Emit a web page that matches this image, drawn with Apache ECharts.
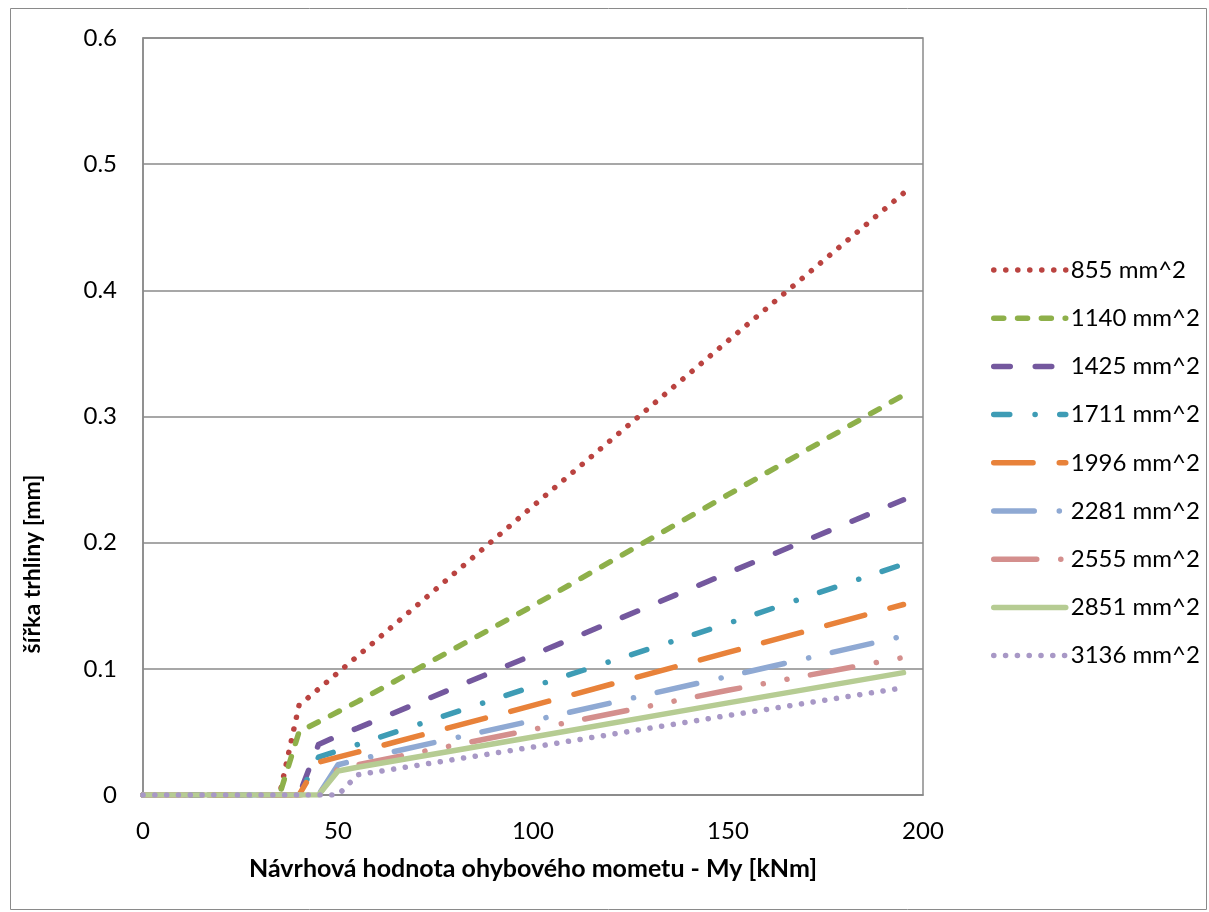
<!DOCTYPE html>
<html>
<head>
<meta charset="utf-8">
<script src="https://cdn.jsdelivr.net/npm/echarts@6/dist/echarts.min.js"></script>
<style>
  html, body { margin: 0; padding: 0; background: #ffffff; }
  #chart { width: 1209px; height: 912px; }
</style>
</head>
<body>
<div id="chart"></div>
<script>
// Design bending moment My [kNm] at which the crack widths were evaluated
const moments = [0, 35, 40, 45, 50, 55, 100, 150, 195];

// Reinforcement areas (legend entries)
const seriesNames = ['855 mm^2', '1140 mm^2', '1425 mm^2', '1711 mm^2', '1996 mm^2',
                     '2281 mm^2', '2555 mm^2', '2851 mm^2', '3136 mm^2'];

// Crack width w [mm] for each reinforcement area, one value per moment above
const w855  = [0, 0, 0.071, 0.084, 0.097, 0.110, 0.229, 0.360, 0.477];
const w1140 = [0, 0, 0.050, 0.058, 0.066, 0.074, 0.150, 0.238, 0.317];
const w1425 = [0, 0, 0, 0.040, 0.047, 0.053, 0.111, 0.176, 0.234];
const w1711 = [0, 0, 0, 0.030, 0.035, 0.040, 0.086, 0.136, 0.183];
const w1996 = [0, 0, 0, 0.026, 0.030, 0.034, 0.071, 0.113, 0.151];
const w2281 = [0, 0, 0, 0, 0.024, 0.028, 0.059, 0.094, 0.126];
const w2555 = [0, 0, 0, 0, 0.021, 0.024, 0.052, 0.083, 0.109];
const w2851 = [0, 0, 0, 0, 0.019, 0.022, 0.046, 0.073, 0.097];
const w3136 = [0, 0, 0, 0, 0, 0.016, 0.038, 0.063, 0.085];

const widthSets = [w855, w1140, w1425, w1711, w1996, w2281, w2555, w2851, w3136];

// Axis ranges
const xMin = 0, xMax = 200, xStep = 50;
const yMin = 0, yMax = 0.6, yStep = 0.1;

const xTitle = 'Návrhová hodnota ohybového mometu - My [kNm]';
const yTitle = 'šířka trhliny [mm]';

// Line appearance per series: colour and dash pattern
const lineLooks = [
  { color: '#BA4340', dash: [0.1, 11.9] },                       // round dots
  { color: '#8EB04A', dash: [10, 13.8] },                        // dashes
  { color: '#74589E', dash: [16.5, 25] },                        // long dashes
  { color: '#3E9CB5', dash: [16, 25.3, 0.1, 24.6] },             // dash-dot
  { color: '#E8823A', dash: [39.3, 26.2] },                      // long dash
  { color: '#8FA9D3', dash: [40.5, 25, 0.1, 24.2] },             // long dash-dot
  { color: '#D48F8D', dash: [43, 24, 0.1, 24, 0.1, 23.8] },      // long dash-dot-dot
  { color: '#B6CC93', dash: 'solid' },                           // solid
  { color: '#A898C6', dash: [0.1, 11.7] }                        // round dots
];

const FONT = 'Lato';
const GRID_COLOR = '#8a8a8a';
const LINE_W = 5.5;

const series = seriesNames.map((name, k) => ({
  name: name,
  type: 'line',
  data: moments.map((m, i) => [m, widthSets[k][i]]),
  symbol: 'none',
  showSymbol: false,
  animation: false,
  lineStyle: {
    color: lineLooks[k].color,
    width: LINE_W,
    type: lineLooks[k].dash,
    cap: 'round',
    join: 'round'
  },
  emphasis: { disabled: true }
}));

// Legend entries carry the same stroke as their series
const legendData = seriesNames.map((name, k) => ({
  name: name,
  lineStyle: {
    color: lineLooks[k].color,
    width: LINE_W,
    type: lineLooks[k].dash,
    cap: 'round',
    join: 'round'
  }
}));

const chart = echarts.init(document.getElementById('chart'), null, { renderer: 'canvas' });

chart.setOption({
  backgroundColor: '#ffffff',
  animation: false,
  textStyle: { fontFamily: FONT },
  grid: {
    left: 143, top: 38, right: 286, bottom: 117,
    show: true, borderColor: GRID_COLOR, borderWidth: 1.5
  },
  xAxis: {
    type: 'value',
    min: xMin, max: xMax, interval: xStep,
    name: xTitle,
    nameLocation: 'middle',
    nameGap: 61,
    nameTextStyle: { fontFamily: FONT, fontSize: 25, fontWeight: 'bold', color: '#000' },
    axisLine: { show: true, lineStyle: { color: GRID_COLOR, width: 1.5 } },
    axisTick: { show: false },
    axisLabel: { fontFamily: FONT, fontSize: 24, color: '#000', margin: 24 },
    splitLine: { show: false }
  },
  yAxis: {
    type: 'value',
    min: yMin, max: yMax, interval: yStep,
    axisLine: { show: true, lineStyle: { color: GRID_COLOR, width: 1.5 } },
    axisTick: { show: false },
    axisLabel: { fontFamily: FONT, fontSize: 24, color: '#000', margin: 26 },
    splitLine: { show: true, lineStyle: { color: GRID_COLOR, width: 1.5 } }
  },
  legend: {
    orient: 'vertical',
    left: 986,
    top: 253,
    itemWidth: 72,
    itemHeight: 24,
    itemGap: 24.2,
    selectedMode: false,
    itemStyle: { opacity: 0 },
    lineStyle: { width: LINE_W, cap: 'round', join: 'round' },
    textStyle: { fontFamily: FONT, fontSize: 24, color: '#000', lineHeight: 24 },
    data: legendData
  },
  graphic: [
    {
      type: 'rect',
      silent: true,
      shape: { x: 10.5, y: 8.5, width: 1196, height: 901 },
      style: { fill: 'none', stroke: GRID_COLOR, lineWidth: 1 }
    },
    {
      type: 'text',
      silent: true,
      x: 33, y: 564,
      rotation: Math.PI / 2,
      style: {
        text: yTitle,
        fontFamily: FONT, fontSize: 23, fontWeight: 'bold', fill: '#000',
        align: 'center', verticalAlign: 'middle'
      }
    }
  ],
  series: series
});
</script>
</body>
</html>
